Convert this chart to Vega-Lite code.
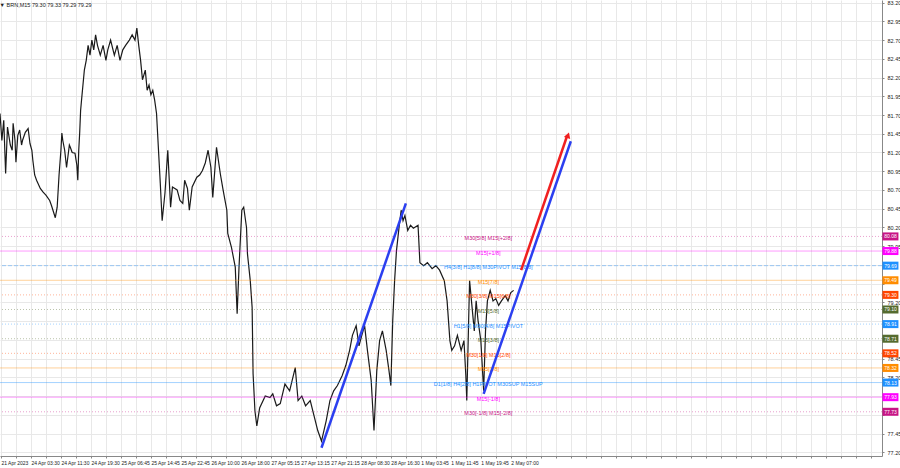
{
  "$schema": "https://vega.github.io/schema/vega-lite/v6.json",
  "width": 882,
  "height": 456,
  "autosize": {"type": "none"},
  "padding": {"left": 0, "top": 0, "right": 18, "bottom": 12},
  "background": "white",
  "title": {"text": "▼ BRN,M15  79.30 79.33 79.29 79.29", "anchor": "start", "orient": "top", "offset": -8, "fontSize": 5.5, "fontWeight": "normal", "color": "#222", "font": "Liberation Sans", "dx": 2},
  "config": {"view": {"stroke": null}, "font": "Liberation Sans",
    "axisX": {"grid": true, "gridColor": "#e8e8e8", "labelAlign": "left", "labelFontSize": 5, "labelColor": "#222", "labelPadding": 2, "tickSize": 2, "tickColor": "#888", "domainColor": "#888", "labelOverlap": false, "labelBound": false, "title": null},
    "axisY": {"grid": true, "gridColor": "#e8e8e8", "labelFontSize": 5.5, "labelColor": "#222", "labelPadding": 3, "tickSize": 2, "tickColor": "#888", "domainColor": "#888", "labelOverlap": false, "labelBound": false, "title": null}},
  "datasets": {
    "price": [
      {"b":-1,"p":81.72},{"b":1,"p":81.36},{"b":3,"p":81.63},{"b":5,"p":80.92},{"b":7,"p":81.54},{"b":10,"p":81.30},{"b":12,"p":81.23},{"b":13,"p":81.59},{"b":15,"p":81.36},{"b":16,"p":81.07},{"b":18,"p":81.43},{"b":20,"p":81.50},{"b":22,"p":81.30},{"b":23,"p":81.36},{"b":26,"p":81.47},{"b":29,"p":81.52},{"b":31,"p":81.32},{"b":33,"p":81.23},{"b":34,"p":81.10},{"b":36,"p":80.90},{"b":38,"p":80.83},{"b":42,"p":80.72},{"b":45,"p":80.67},{"b":48,"p":80.63},{"b":52,"p":80.56},{"b":54,"p":80.49},{"b":58,"p":80.33},{"b":60,"p":80.47},{"b":62,"p":80.90},{"b":64,"p":81.23},{"b":65,"p":81.46},{"b":66,"p":81.36},{"b":68,"p":81.23},{"b":70,"p":81.00},{"b":73,"p":81.30},{"b":74,"p":81.27},{"b":76,"p":81.20},{"b":79,"p":81.19},{"b":81,"p":81.03},{"b":82,"p":80.83},{"b":83,"p":81.23},{"b":84,"p":81.46},{"b":85,"p":81.76},{"b":86,"p":81.90},{"b":89,"p":82.30},{"b":91,"p":82.43},{"b":93,"p":82.63},{"b":95,"p":82.50},{"b":97,"p":82.70},{"b":99,"p":82.57},{"b":101,"p":82.77},{"b":103,"p":82.63},{"b":106,"p":82.50},{"b":109,"p":82.63},{"b":112,"p":82.43},{"b":114,"p":82.57},{"b":117,"p":82.70},{"b":121,"p":82.50},{"b":124,"p":82.63},{"b":127,"p":82.43},{"b":130,"p":82.57},{"b":133,"p":82.63},{"b":137,"p":82.70},{"b":140,"p":82.77},{"b":143,"p":82.70},{"b":145,"p":82.86},{"b":147,"p":82.63},{"b":149,"p":82.43},{"b":151,"p":82.17},{"b":154,"p":82.30},{"b":156,"p":82.03},{"b":158,"p":82.10},{"b":160,"p":81.97},{"b":162,"p":82.03},{"b":164,"p":81.90},{"b":166,"p":81.72},{"b":170,"p":80.79},{"b":172,"p":80.29},{"b":175,"p":80.66},{"b":178,"p":81.23},{"b":181,"p":80.47},{"b":183,"p":80.74},{"b":188,"p":80.70},{"b":191,"p":80.56},{"b":194,"p":80.52},{"b":196,"p":80.83},{"b":199,"p":80.72},{"b":201,"p":80.43},{"b":204,"p":80.74},{"b":209,"p":80.87},{"b":212,"p":80.90},{"b":215,"p":80.96},{"b":218,"p":81.06},{"b":221,"p":81.23},{"b":224,"p":81.00},{"b":226,"p":80.60},{"b":230,"p":81.27},{"b":234,"p":80.92},{"b":237,"p":80.70},{"b":241,"p":80.43},{"b":242,"p":80.12},{"b":246,"p":79.93},{"b":250,"p":79.67},{"b":252,"p":79.05},{"b":254,"p":79.67},{"b":257,"p":80.43},{"b":259,"p":80.47},{"b":262,"p":80.20},{"b":263,"p":79.85},{"b":266,"p":79.49},{"b":268,"p":79.13},{"b":269,"p":78.25},{"b":271,"p":77.75},{"b":273,"p":77.55},{"b":276,"p":77.79},{"b":282,"p":77.95},{"b":287,"p":77.93},{"b":290,"p":77.98},{"b":294,"p":77.82},{"b":298,"p":77.85},{"b":303,"p":78.11},{"b":308,"p":78.02},{"b":314,"p":78.33},{"b":317,"p":77.89},{"b":321,"p":77.95},{"b":325,"p":77.82},{"b":330,"p":77.89},{"b":334,"p":77.69},{"b":338,"p":77.49},{"b":342,"p":77.35},{"b":347,"p":77.62},{"b":351,"p":77.89},{"b":355,"p":78.02},{"b":359,"p":78.09},{"b":364,"p":78.22},{"b":368,"p":78.36},{"b":372,"p":78.56},{"b":375,"p":78.76},{"b":379,"p":78.89},{"b":382,"p":78.62},{"b":385,"p":78.76},{"b":388,"p":78.89},{"b":391,"p":78.56},{"b":395,"p":78.16},{"b":398,"p":77.49},{"b":401,"p":78.29},{"b":404,"p":78.69},{"b":407,"p":78.82},{"b":411,"p":78.56},{"b":414,"p":78.29},{"b":416,"p":78.09},{"b":418,"p":78.96},{"b":420,"p":79.49},{"b":422,"p":79.89},{"b":425,"p":80.23},{"b":427,"p":80.43},{"b":429,"p":80.29},{"b":431,"p":80.36},{"b":434,"p":80.16},{"b":437,"p":80.23},{"b":440,"p":80.19},{"b":445,"p":80.23},{"b":447,"p":79.73},{"b":451,"p":79.69},{"b":455,"p":79.73},{"b":460,"p":79.65},{"b":464,"p":79.69},{"b":468,"p":79.63},{"b":473,"p":79.49},{"b":476,"p":79.22},{"b":479,"p":78.69},{"b":481,"p":78.56},{"b":484,"p":78.62},{"b":487,"p":78.76},{"b":491,"p":78.56},{"b":494,"p":78.69},{"b":496,"p":78.22},{"b":497,"p":77.89},{"b":499,"p":78.96},{"b":500,"p":79.49},{"b":502,"p":79.22},{"b":505,"p":78.82},{"b":507,"p":79.22},{"b":509,"p":78.96},{"b":512,"p":78.69},{"b":515,"p":78.02},{"b":517,"p":78.82},{"b":519,"p":79.22},{"b":522,"p":79.36},{"b":525,"p":79.22},{"b":528,"p":79.25},{"b":531,"p":79.16},{"b":534,"p":79.22},{"b":538,"p":79.29},{"b":541,"p":79.22},{"b":544,"p":79.33},{"b":547,"p":79.36}
    ],
    "levels": [
      {"p":80.08,"lab":"M30[5/8] M15[+2/8]","c":"#C71585","tag":"80.08","d":"dot"},
      {"p":79.885,"lab":"M15[+1/8]","c":"#FF00FF","tag":"79.88","d":"solid"},
      {"p":79.69,"lab":"H4[3/8] H1[8/8] M30PIVOT M15[8/8]","c":"#1E90FF","tag":"79.69","d":"dash"},
      {"p":79.495,"lab":"M15[7/8]","c":"#FF8C00","tag":"79.49","d":"solid"},
      {"p":79.30,"lab":"M30[3/8] M15[6/8]","c":"#FF4500","tag":"79.30","d":"dot"},
      {"p":79.105,"lab":"M15[5/8]","c":"#556B2F","tag":"79.10","d":"dot"},
      {"p":78.91,"lab":"H1[5/8] M30[4/8] M15PIVOT","c":"#1E90FF","tag":"78.91","d":"dot"},
      {"p":78.715,"lab":"M15[3/8]","c":"#556B2F","tag":"78.71","d":"dot"},
      {"p":78.52,"lab":"M30[1/8] M15[2/8]","c":"#FF4500","tag":"78.52","d":"dot"},
      {"p":78.325,"lab":"M15[1/8]","c":"#FF8C00","tag":"78.32","d":"solid"},
      {"p":78.13,"lab":"D1[1/8] H4[2/8] H1PIVOT M30SUP M15SUP","c":"#1E90FF","tag":"78.13","d":"solid"},
      {"p":77.935,"lab":"M15[-1/8]","c":"#FF00FF","tag":"77.93","d":"solid"},
      {"p":77.74,"lab":"M30[-1/8] M15[-2/8]","c":"#C71585","tag":"77.73","d":"dot"}
    ],
    "trend": [
      {"g":"b1","c":"#2B3FF0","b":342,"p":77.26},{"g":"b1","c":"#2B3FF0","b":432,"p":80.52},
      {"g":"b2","c":"#2B3FF0","b":515,"p":77.98},{"g":"b2","c":"#2B3FF0","b":608,"p":81.35},
      {"g":"r1","c":"#F02020","b":555,"p":79.63},{"g":"r1","c":"#F02020","b":604,"p":81.42}
    ]
  },
  "encoding": {
    "y": {"field": "p", "type": "quantitative",
      "scale": {"domain": [77.15, 83.235], "zero": false, "nice": false},
      "axis": {"orient": "right", "values": [83.2,82.95,82.7,82.45,82.2,81.95,81.7,81.45,81.2,80.95,80.7,80.45,80.2,79.95,79.7,79.45,79.2,78.95,78.7,78.45,78.2,77.95,77.7,77.45,77.2],
        "labelExpr": "indexof([79.7,79.45,78.95,78.7,77.95,77.7], datum.value) >= 0 ? '' : format(datum.value, '.2f')"}}
  },
  "layer": [
    {
      "data": {"name": "price"},
      "mark": {"type": "line", "color": "#1a1a1a", "strokeWidth": 1.2},
      "encoding": {
        "x": {"field": "b", "type": "quantitative",
          "scale": {"domain": [-1, 940], "zero": false, "nice": false},
          "axis": {"labelOverlap": false, "values": [0,16,32,48,64,80,96,112,128,144,160,176,192,208,224,240,256,272,288,304,320,336,352,368,384,400,416,432,448,464,480,496,512,528,544,560,576,592,608,624,640,656,672,688,704,720,736,752,768,784,800,816,832,848,864,880,896,912,928],
            "labelExpr": "(datum.value % 32 == 0 && datum.value / 32 < 18) ? ['21 Apr 2023','24 Apr 03:30','24 Apr 11:30','24 Apr 19:30','25 Apr 06:45','25 Apr 14:45','25 Apr 22:45','26 Apr 10:00','26 Apr 18:00','27 Apr 05:15','27 Apr 13:15','27 Apr 21:15','28 Apr 08:30','28 Apr 16:30','1 May 03:45','1 May 11:45','1 May 19:45','2 May 07:00'][datum.value / 32] : ''"}}
      }
    },
    {
      "data": {"name": "levels"},
      "mark": {"type": "rule", "strokeWidth": 1, "opacity": 0.4},
      "encoding": {
        "color": {"field": "c", "type": "nominal", "scale": null},
        "strokeDash": {"field": "d", "type": "nominal", "scale": {"domain": ["solid","dash","dot"], "range": [[1,0],[4,2],[1,2]]}, "legend": null}
      }
    },
    {
      "data": {"name": "levels"},
      "mark": {"type": "text", "fontSize": 5.5, "dy": 1.5},
      "encoding": {
        "x": {"datum": 520, "axis": {"labelOverlap": false, "values": [0,16,32,48,64,80,96,112,128,144,160,176,192,208,224,240,256,272,288,304,320,336,352,368,384,400,416,432,448,464,480,496,512,528,544,560,576,592,608,624,640,656,672,688,704,720,736,752,768,784,800,816,832,848,864,880,896,912,928],
            "labelExpr": "(datum.value % 32 == 0 && datum.value / 32 < 18) ? ['21 Apr 2023','24 Apr 03:30','24 Apr 11:30','24 Apr 19:30','25 Apr 06:45','25 Apr 14:45','25 Apr 22:45','26 Apr 10:00','26 Apr 18:00','27 Apr 05:15','27 Apr 13:15','27 Apr 21:15','28 Apr 08:30','28 Apr 16:30','1 May 03:45','1 May 11:45','1 May 19:45','2 May 07:00'][datum.value / 32] : ''"}},
        "text": {"field": "lab"},
        "color": {"field": "c", "type": "nominal", "scale": null}
      }
    },
    {
      "data": {"name": "trend"},
      "mark": {"type": "line", "strokeWidth": 2.5},
      "encoding": {
        "x": {"field": "b", "type": "quantitative", "axis": {"labelOverlap": false, "values": [0,16,32,48,64,80,96,112,128,144,160,176,192,208,224,240,256,272,288,304,320,336,352,368,384,400,416,432,448,464,480,496,512,528,544,560,576,592,608,624,640,656,672,688,704,720,736,752,768,784,800,816,832,848,864,880,896,912,928],
            "labelExpr": "(datum.value % 32 == 0 && datum.value / 32 < 18) ? ['21 Apr 2023','24 Apr 03:30','24 Apr 11:30','24 Apr 19:30','25 Apr 06:45','25 Apr 14:45','25 Apr 22:45','26 Apr 10:00','26 Apr 18:00','27 Apr 05:15','27 Apr 13:15','27 Apr 21:15','28 Apr 08:30','28 Apr 16:30','1 May 03:45','1 May 11:45','1 May 19:45','2 May 07:00'][datum.value / 32] : ''"}},
        "detail": {"field": "g"},
        "color": {"field": "c", "type": "nominal", "scale": null}
      }
    },
    {
      "data": {"values": [{"b": 605, "p": 81.43}]},
      "mark": {"type": "point", "shape": "triangle-up", "filled": true, "color": "#F02020", "size": 45, "angle": 19, "opacity": 1},
      "encoding": {
        "x": {"field": "b", "type": "quantitative", "axis": {"labelOverlap": false, "values": [0,16,32,48,64,80,96,112,128,144,160,176,192,208,224,240,256,272,288,304,320,336,352,368,384,400,416,432,448,464,480,496,512,528,544,560,576,592,608,624,640,656,672,688,704,720,736,752,768,784,800,816,832,848,864,880,896,912,928],
            "labelExpr": "(datum.value % 32 == 0 && datum.value / 32 < 18) ? ['21 Apr 2023','24 Apr 03:30','24 Apr 11:30','24 Apr 19:30','25 Apr 06:45','25 Apr 14:45','25 Apr 22:45','26 Apr 10:00','26 Apr 18:00','27 Apr 05:15','27 Apr 13:15','27 Apr 21:15','28 Apr 08:30','28 Apr 16:30','1 May 03:45','1 May 11:45','1 May 19:45','2 May 07:00'][datum.value / 32] : ''"}}
      }
    },
    {
      "data": {"name": "levels"},
      "mark": {"type": "rect", "width": 16, "height": 8},
      "encoding": {
        "x": {"datum": 949, "axis": {"labelOverlap": false, "values": [0,16,32,48,64,80,96,112,128,144,160,176,192,208,224,240,256,272,288,304,320,336,352,368,384,400,416,432,448,464,480,496,512,528,544,560,576,592,608,624,640,656,672,688,704,720,736,752,768,784,800,816,832,848,864,880,896,912,928],
            "labelExpr": "(datum.value % 32 == 0 && datum.value / 32 < 18) ? ['21 Apr 2023','24 Apr 03:30','24 Apr 11:30','24 Apr 19:30','25 Apr 06:45','25 Apr 14:45','25 Apr 22:45','26 Apr 10:00','26 Apr 18:00','27 Apr 05:15','27 Apr 13:15','27 Apr 21:15','28 Apr 08:30','28 Apr 16:30','1 May 03:45','1 May 11:45','1 May 19:45','2 May 07:00'][datum.value / 32] : ''"}},
        "color": {"field": "c", "type": "nominal", "scale": null}
      }
    },
    {
      "data": {"name": "levels"},
      "mark": {"type": "text", "fontSize": 5, "color": "white"},
      "encoding": {
        "x": {"datum": 949, "axis": {"labelOverlap": false, "values": [0,16,32,48,64,80,96,112,128,144,160,176,192,208,224,240,256,272,288,304,320,336,352,368,384,400,416,432,448,464,480,496,512,528,544,560,576,592,608,624,640,656,672,688,704,720,736,752,768,784,800,816,832,848,864,880,896,912,928],
            "labelExpr": "(datum.value % 32 == 0 && datum.value / 32 < 18) ? ['21 Apr 2023','24 Apr 03:30','24 Apr 11:30','24 Apr 19:30','25 Apr 06:45','25 Apr 14:45','25 Apr 22:45','26 Apr 10:00','26 Apr 18:00','27 Apr 05:15','27 Apr 13:15','27 Apr 21:15','28 Apr 08:30','28 Apr 16:30','1 May 03:45','1 May 11:45','1 May 19:45','2 May 07:00'][datum.value / 32] : ''"}},
        "text": {"field": "tag"}
      }
    }
  ]
}
